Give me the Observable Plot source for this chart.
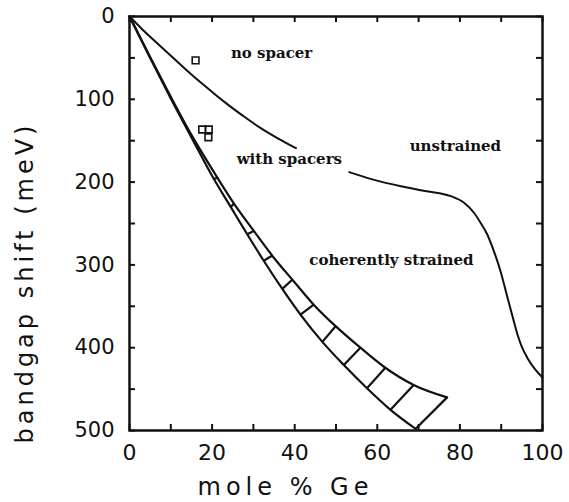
<!DOCTYPE html>
<html>
<head>
<meta charset="utf-8">
<script src="https://cdn.jsdelivr.net/npm/d3@7"></script>
<script src="https://cdn.jsdelivr.net/npm/@observablehq/plot@0.6"></script>
<style>
  html, body { margin: 0; padding: 0; background: #fff; }
</style>
</head>
<body>
<div id="chart"></div>
<script>
// ---- axis ticks ----
const xTickLabels = [0, 20, 40, 60, 80, 100];
const yTickLabels = [0, 100, 200, 300, 400, 500];
const xTickMarks = [0, 10, 20, 30, 40, 50, 60, 70, 80, 90, 100];
const yTickMarks = [0, 50, 100, 150, 200, 250, 300, 350, 400, 450, 500];

// ---- unstrained curve (mole % Ge, meV), broken where "with spacers" sits ----
const unstrainedPart1 = [[0,0],[3,15],[7.3,35],[11,52],[15.2,71],[19.5,89],[23.2,104],[27.5,120],[31.5,134],[36,147.5],[40.3,159]];
const unstrainedPart2 = [[53.2,188],[59,197],[65.7,205],[72,211],[77.8,217],[81,225],[83.4,237],[85,249],[86.6,263],[88.2,283],[89.8,307],[91.5,339],[93,367],[94,385],[95,399],[96.3,412],[97.9,424],[100,436]];

// ---- coherently strained band ----
const strainedLowerEdge = [[0,0],[5,50],[10,99],[15,146],[20.4,196],[24.5,230],[28.5,263],[32.5,295],[37,329],[41.4,360],[46.7,393],[51.9,421],[57.5,449],[63.2,475],[69.3,498]];
const strainedUpperEdge = [[0,0],[5,49],[10,97],[15,143],[21.2,194],[25.3,226],[30.1,259],[34.9,291],[39.8,320],[44.6,348],[49.9,374],[55.9,400],[61.6,423],[68.8,445],[76.9,460]];
// cross-hatch rungs: [x on lower edge, y, x on upper edge, y]
const bandRungs = [
  [20.4,196,21.4,195],[24.5,230,25.3,226],[28.5,263,30.1,259],[32.5,295,34.5,289],
  [37,329,39.4,318],[41.4,360,44.6,348],[46.7,393,49.9,374],[51.9,421,55.9,400],
  [57.5,449,62,424],[63.2,475,68.8,445],[69.3,498,76.9,460]
];

// ---- measured points ----
const measured = [[16,53],[17.6,136.5],[19.2,136.5],[19.1,145.8]];

// ---- annotations ----
const annotationText = ["no spacer", "with spacers", "unstrained", "coherently strained"];
const annotationX = [34.4, 38.7, 78.9, 63.4];
const annotationY = [44.7, 172.7, 157, 293.8];
const annotations = annotationText.map((t, i) => ({text: t, x: annotationX[i], y: annotationY[i]}));

const xTitle = "mole % Ge";
const yTitle = "bandgap shift (meV)";

const W = 569, H = 502;
const mL = 129, mR = 27, mT = 16, mB = 72;
const innerW = W - mL - mR, innerH = H - mT - mB;
const tickLen = 6;
const ink = "#111";

const chart = Plot.plot({
  width: W,
  height: H,
  marginLeft: mL,
  marginRight: mR,
  marginTop: mT,
  marginBottom: mB,
  style: {background: "#fff", color: ink, overflow: "visible"},
  x: {domain: [0, 100], axis: null},
  y: {domain: [0, 500], reverse: true, axis: null},
  marks: [
    // inward ticks on all four sides
    Plot.ruleX(xTickMarks, {stroke: ink, strokeWidth: 2, insetTop: innerH - tickLen}),
    Plot.ruleX(xTickMarks, {stroke: ink, strokeWidth: 2, insetBottom: innerH - tickLen}),
    Plot.ruleY(yTickMarks, {stroke: ink, strokeWidth: 2, insetRight: innerW - tickLen}),
    Plot.ruleY(yTickMarks, {stroke: ink, strokeWidth: 2, insetLeft: innerW - tickLen}),
    Plot.frame({stroke: ink, strokeWidth: 2.5}),
    Plot.axisX(xTickLabels, {anchor: "bottom", tickSize: 0, tickPadding: 14, fontSize: 22, fontFamily: "DejaVu Sans", label: null, fill: ink}),
    Plot.axisY(yTickLabels, {anchor: "left", tickSize: 0, tickPadding: 15, fontSize: 21, fontFamily: "DejaVu Sans", label: null, fill: ink}),
    // curves
    Plot.line(unstrainedPart1, {x: d => d[0], y: d => d[1], curve: "monotone-x", stroke: ink, strokeWidth: 2}),
    Plot.line(unstrainedPart2, {x: d => d[0], y: d => d[1], curve: "monotone-x", stroke: ink, strokeWidth: 2}),
    Plot.line(strainedLowerEdge, {x: d => d[0], y: d => d[1], curve: "monotone-x", stroke: ink, strokeWidth: 2.2}),
    Plot.line(strainedUpperEdge, {x: d => d[0], y: d => d[1], curve: "monotone-x", stroke: ink, strokeWidth: 2.2}),
    Plot.link(bandRungs, {x1: d => d[0], y1: d => d[1], x2: d => d[2], y2: d => d[3], stroke: ink, strokeWidth: 2.2}),
    // data points
    Plot.dot(measured, {x: d => d[0], y: d => d[1], symbol: "square", r: 3.8, stroke: ink, strokeWidth: 1.6, fill: "none"}),
    // annotations
    Plot.text(annotations, {x: "x", y: "y", text: "text", fontFamily: "DejaVu Serif", fontWeight: "bold", fontSize: 15, fill: ink}),
    // axis titles
    Plot.text([yTitle], {frameAnchor: "left", dx: -104, dy: 220, rotate: -90, textAnchor: "start", lineAnchor: "middle", fontSize: 24, fontFamily: "DejaVu Sans", fill: ink}),
    Plot.text([xTitle], {frameAnchor: "bottom", dx: -138.5, dy: 57, textAnchor: "start", lineAnchor: "middle", fontSize: 24, fontFamily: "DejaVu Sans", fill: ink})
  ]
});

d3.select(chart).selectAll("text").each(function () {
  const t = this.textContent;
  if (t === yTitle) d3.select(this).attr("letter-spacing", "4px");
  if (t === xTitle) d3.select(this).attr("letter-spacing", "5px");
});

document.getElementById("chart").appendChild(chart);
</script>
</body>
</html>
